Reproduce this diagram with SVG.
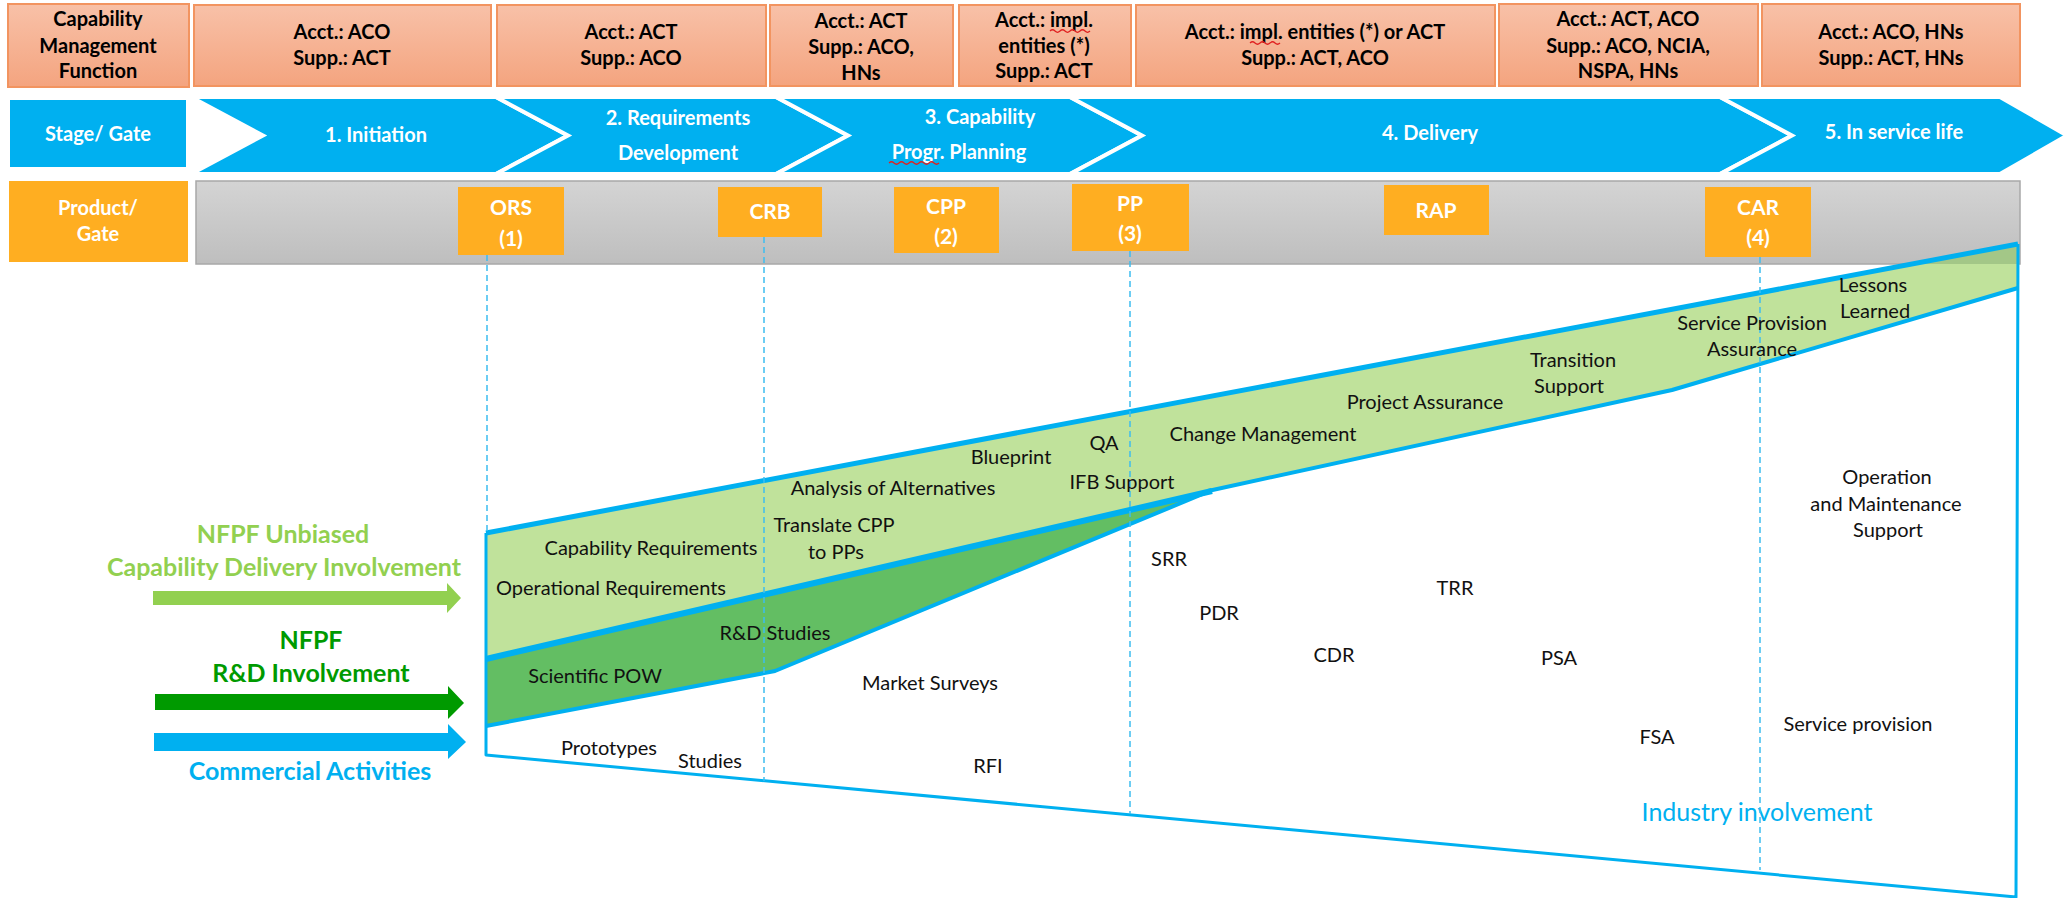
<svg xmlns="http://www.w3.org/2000/svg" width="2071" height="898" viewBox="0 0 2071 898">
<defs>
<linearGradient id="salmon" x1="0" y1="0" x2="0" y2="1">
<stop offset="0" stop-color="#F8C1A8"/>
<stop offset="1" stop-color="#F4A47F"/>
</linearGradient>
<linearGradient id="gray" x1="0" y1="0" x2="0" y2="1">
<stop offset="0" stop-color="#D4D4D4"/>
<stop offset="1" stop-color="#BEBEBE"/>
</linearGradient>
<style>
text{font-family:Lato,"Liberation Sans",sans-serif}
.sal{fill:url(#salmon);stroke:#F29460;stroke-width:2}
.hd{font-size:20px;font-weight:bold;fill:#000;text-anchor:middle}
.chev{fill:#00B0F0;stroke:#fff;stroke-width:4;stroke-linejoin:miter}
.wt{font-size:20px;font-weight:bold;fill:#fff;text-anchor:middle}
.gate{fill:#FFAE21}
.gt{font-size:21px;font-weight:bold;fill:#fff;text-anchor:middle}
.bl{fill:none;stroke:#00B0F0;stroke-linejoin:round}
.dash{fill:none;stroke:#3DBDEF;stroke-width:1.5;stroke-dasharray:6 4}
.lb{font-size:20px;fill:#111;text-anchor:middle}
.big{font-size:25px;font-weight:bold;text-anchor:middle}
.sq{fill:none;stroke:#E02020;stroke-width:1.2}
</style>
</defs>

<!-- Row 1: capability management function -->
<g id="cmf-label">
<rect class="sal" x="8" y="4" width="181" height="83"/>
<text class="hd" x="98" y="26">Capability</text>
<text class="hd" x="98" y="53">Management</text>
<text class="hd" x="98" y="78">Function</text>
</g>
<g id="cmf-1">
<rect class="sal" x="194" y="5" width="297" height="81"/>
<text class="hd" x="342" y="39">Acct.: ACO</text>
<text class="hd" x="342" y="65">Supp.: ACT</text>
</g>
<g id="cmf-2">
<rect class="sal" x="497" y="5" width="269" height="81"/>
<text class="hd" x="631" y="39">Acct.: ACT</text>
<text class="hd" x="631" y="65">Supp.: ACO</text>
</g>
<g id="cmf-3">
<rect class="sal" x="770" y="5" width="183" height="81"/>
<text class="hd" x="861" y="28">Acct.: ACT</text>
<text class="hd" x="861" y="54">Supp.: ACO,</text>
<text class="hd" x="861" y="80">HNs</text>
</g>
<g id="cmf-4">
<rect class="sal" x="959" y="5" width="172" height="81"/>
<text class="hd" x="1044" y="27">Acct.: impl.</text>
<path class="sq" d="M1050,31 q2.5,-2.5 5,0 t5,0 t5,0 t5,0 t5,0 t5,0 t5,0 t5,0"/>
<text class="hd" x="1044" y="53">entities (*)</text>
<text class="hd" x="1044" y="78">Supp.: ACT</text>
</g>
<g id="cmf-5">
<rect class="sal" x="1136" y="5" width="359" height="81"/>
<text class="hd" x="1315" y="39">Acct.: impl. entities (*) or ACT</text>
<path class="sq" d="M1250,43 q2.5,-2.5 5,0 t5,0 t5,0 t5,0 t5,0 t5,0"/>
<text class="hd" x="1315" y="65">Supp.: ACT, ACO</text>
</g>
<g id="cmf-6">
<rect class="sal" x="1499" y="4" width="259" height="82"/>
<text class="hd" x="1628" y="26">Acct.: ACT, ACO</text>
<text class="hd" x="1628" y="53">Supp.: ACO, NCIA,</text>
<text class="hd" x="1628" y="78">NSPA, HNs</text>
</g>
<g id="cmf-7">
<rect class="sal" x="1762" y="4" width="258" height="82"/>
<text class="hd" x="1891" y="39">Acct.: ACO, HNs</text>
<text class="hd" x="1891" y="65">Supp.: ACT, HNs</text>
</g>

<!-- Row 2: stages -->
<g id="stage-label">
<rect x="10" y="100" width="176" height="67" fill="#00B0F0"/>
<text class="wt" x="98" y="141">Stage/ Gate</text>
</g>
<g id="stage-1">
<polygon class="chev" points="191,97 496,97 568,135.5 496,174 191,174 263,135.5"/>
<text class="wt" x="376" y="142">1. Initiation</text>
</g>
<g id="stage-2">
<polygon class="chev" points="496,97 776,97 848,135.5 776,174 496,174 568,135.5"/>
<text class="wt" x="678" y="125">2. Requirements</text>
<text class="wt" x="678" y="160">Development</text>
</g>
<g id="stage-3">
<polygon class="chev" points="776,97 1070,97 1142,135.5 1070,174 776,174 848,135.5"/>
<text class="wt" x="980" y="124">3. Capability</text>
<text class="wt" x="959" y="159">Progr. Planning</text>
<path class="sq" d="M889,163 q2.5,-2.5 5,0 t5,0 t5,0 t5,0 t5,0 t5,0 t5,0 t5,0 t5,0 t5,0"/>
</g>
<g id="stage-4">
<polygon class="chev" points="1070,97 1720,97 1792,135.5 1720,174 1070,174 1142,135.5"/>
<text class="wt" x="1430" y="140">4. Delivery</text>
</g>
<g id="stage-5">
<polygon class="chev" points="1720,97 2000,97 2067,135.5 2000,174 1720,174 1792,135.5"/>
<text class="wt" x="1894" y="139">5. In service life</text>
</g>

<!-- Row 3: products / gates -->
<g id="product-label">
<rect x="9" y="181" width="179" height="81" fill="#FFAE21"/>
<text class="wt" x="98" y="215">Product/</text>
<text class="wt" x="98" y="241">Gate</text>
</g>
<g id="product-band">
<rect x="196" y="181" width="1824" height="83" fill="url(#gray)" stroke="#A8A8A8" stroke-width="1.5"/>
</g>

<!-- Lower area: involvement funnel -->
<g id="industry-involvement">
<path d="M486,533 L2018,244 L2016,897 L486,755 Z" fill="#fff"/>
<text x="1757" y="821" font-size="25" fill="#00B0F0" text-anchor="middle">Industry involvement</text>
</g>
<g id="nfpf-capability-band">
<path d="M486,533 L2018,244 L2018,288 L1672,390 L1212,490 L486,657 Z" fill="#C0E29B"/>
<path d="M1912,264 L2018,244 L2018,264 Z" fill="#A3C787"/>
</g>
<g id="nfpf-rd-band">
<path d="M486,660 L1208,492 L775,671 L486,726 Z" fill="#63BE63"/>
</g>
<g id="funnel-outlines">
<path class="bl" stroke-width="3" d="M486,533 L486,755 L2016,897 L2018,244"/>
<path class="bl" stroke-width="5" d="M486,533 L2018,244"/>
<path class="bl" stroke-width="4" d="M1208,491 L1672,390 L2018,288"/>
<path class="bl" stroke-width="6" d="M486,659 L1212,491"/>
<path class="bl" stroke-width="4" d="M486,726 L775,671 L1210,491"/>
</g>

<g id="gate-ors">
<rect class="gate" x="458" y="187" width="106" height="68"/>
<text class="gt" x="511" y="215">ORS</text>
<text class="gt" x="511" y="246">(1)</text>
</g>
<g id="gate-crb">
<rect class="gate" x="718" y="187" width="104" height="50"/>
<text class="gt" x="770" y="219">CRB</text>
</g>
<g id="gate-cpp">
<rect class="gate" x="894" y="187" width="105" height="66"/>
<text class="gt" x="946" y="214">CPP</text>
<text class="gt" x="946" y="244">(2)</text>
</g>
<g id="gate-pp">
<rect class="gate" x="1072" y="184" width="117" height="67"/>
<text class="gt" x="1130" y="211">PP</text>
<text class="gt" x="1130" y="241">(3)</text>
</g>
<g id="gate-rap">
<rect class="gate" x="1384" y="185" width="105" height="50"/>
<text class="gt" x="1436" y="218">RAP</text>
</g>
<g id="gate-car">
<rect class="gate" x="1705" y="187" width="106" height="70"/>
<text class="gt" x="1758" y="215">CAR</text>
<text class="gt" x="1758" y="245">(4)</text>
</g>

<!-- connectors: gate drop lines and involvement arrows -->
<g id="connectors">
<line class="dash" x1="487" y1="255" x2="487" y2="532"/>
<line class="dash" x1="764" y1="237" x2="764" y2="781"/>
<line class="dash" x1="1130" y1="251" x2="1130" y2="814"/>
<line class="dash" x1="1760" y1="257" x2="1760" y2="870"/>
<polygon fill="#92D050" points="153,591 447,591 447,583 461,598 447,613 447,605 153,605"/>
<polygon fill="#009A00" points="155,694 448,694 448,686 464,703 448,719 448,710 155,710"/>
<polygon fill="#00B0F0" points="154,733 448,733 448,724 466,742 448,759 448,751 154,751"/>
</g>

<g id="involvement-labels">
<text class="big" x="283" y="543" fill="#92D050">NFPF Unbiased</text>
<text class="big" x="284" y="576" fill="#92D050">Capability Delivery Involvement</text>
<text class="big" x="311" y="649" fill="#009A00">NFPF</text>
<text class="big" x="311" y="682" fill="#009A00">R&amp;D Involvement</text>
<text class="big" x="310" y="780" fill="#00B0F0">Commercial Activities</text>
</g>

<g id="activities">
<text class="lb" x="651" y="555">Capability Requirements</text>
<text class="lb" x="611" y="595">Operational Requirements</text>
<text class="lb" x="775" y="640">R&amp;D Studies</text>
<text class="lb" x="595" y="683">Scientific POW</text>
<text class="lb" x="834" y="532">Translate CPP</text>
<text class="lb" x="836" y="559">to PPs</text>
<text class="lb" x="893" y="495">Analysis of Alternatives</text>
<text class="lb" x="1011" y="464">Blueprint</text>
<text class="lb" x="1104" y="450">QA</text>
<text class="lb" x="1122" y="489">IFB Support</text>
<text class="lb" x="1263" y="441">Change Management</text>
<text class="lb" x="1425" y="409">Project Assurance</text>
<text class="lb" x="1573" y="367">Transition</text>
<text class="lb" x="1569" y="393">Support</text>
<text class="lb" x="1752" y="330">Service Provision</text>
<text class="lb" x="1752" y="356">Assurance</text>
<text class="lb" x="1873" y="292">Lessons</text>
<text class="lb" x="1875" y="318">Learned</text>
<text class="lb" x="1887" y="484">Operation</text>
<text class="lb" x="1886" y="511">and Maintenance</text>
<text class="lb" x="1888" y="537">Support</text>
<text class="lb" x="1169" y="566">SRR</text>
<text class="lb" x="1219" y="620">PDR</text>
<text class="lb" x="1455" y="595">TRR</text>
<text class="lb" x="1334" y="662">CDR</text>
<text class="lb" x="1559" y="665">PSA</text>
<text class="lb" x="1657" y="744">FSA</text>
<text class="lb" x="1858" y="731">Service provision</text>
<text class="lb" x="930" y="690">Market Surveys</text>
<text class="lb" x="609" y="755">Prototypes</text>
<text class="lb" x="710" y="768">Studies</text>
<text class="lb" x="988" y="773">RFI</text>
</g>
</svg>
